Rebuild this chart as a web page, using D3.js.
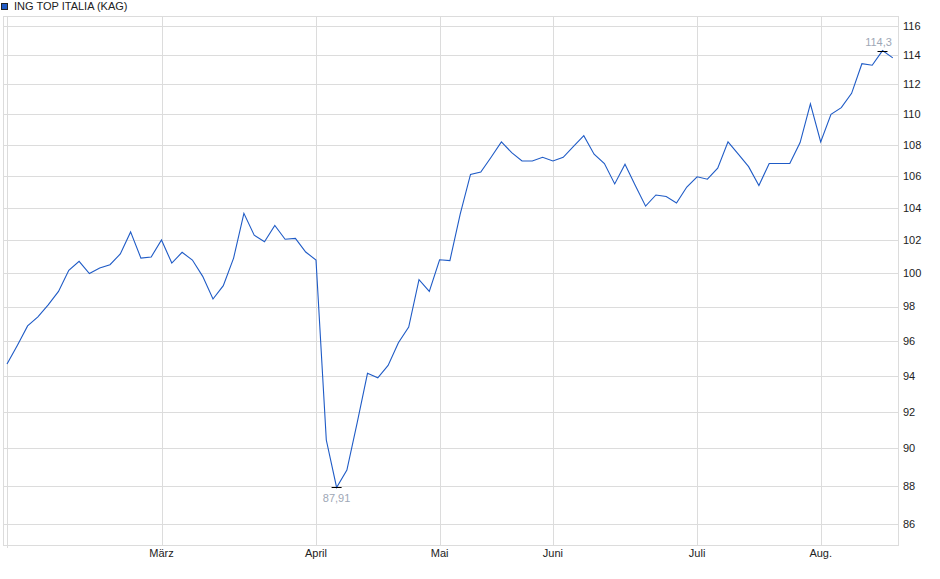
<!DOCTYPE html>
<html>
<head>
<meta charset="utf-8">
<script src="https://cdn.jsdelivr.net/npm/d3@7"></script>
<style>
  body { margin: 0; background: #fff; }
  svg text { font-family: "Liberation Sans", Arial, sans-serif; font-size: 11px; }
</style>
</head>
<body>
<div id="chart-area"></div>
<script>
// SVG Size
var width = 940,
    height = 579;

// series values, one point per ~2 trading days (Feb - Aug)
var values = [
    94.68, 95.74, 96.87, 97.4, 98.1, 98.9, 100.16, 100.7, 99.97, 100.3,
    100.5, 101.15, 102.5, 100.9, 100.97, 102.0, 100.6, 101.25, 100.78, 99.8,
    98.45, 99.24, 100.9, 103.65, 102.3, 101.9, 102.9, 102.05, 102.1, 101.27,
    100.78, 90.45, 87.91, 88.83, 91.4, 94.15, 93.9, 94.6, 95.9, 96.8,
    99.6, 98.9, 100.8, 100.75, 103.6, 106.1, 106.25, 107.2, 108.2, 107.5,
    106.96, 106.96, 107.2, 106.96, 107.2, 107.9, 108.6, 107.4, 106.8, 105.5,
    106.75, 105.4, 104.1, 104.8, 104.7, 104.3, 105.3, 105.95, 105.8, 106.5,
    108.2, 107.4, 106.6, 105.4, 106.8, 106.8, 106.8, 108.15, 110.7, 108.2,
    110.0, 110.45, 111.4, 113.4, 113.3, 114.3, 113.8
];

// month ticks (index of first point in month)
var monthIdx = [0, 15, 30, 42, 53, 67, 79];
var monthLabels = ["", "März", "April", "Mai", "Juni", "Juli", "Aug."];

var yTicks = d3.range(86, 117, 2);

var seriesName = "ING TOP ITALIA (KAG)";
var lineColor = "#1f5bc6";

var plot = { left: 3, top: 16, right: 898, bottom: 545 };

var svg = d3.select("#chart-area").append("svg")
    .attr("width", width)
    .attr("height", height);

var x = d3.scaleLinear()
    .domain([0, values.length - 1])
    .range([7, 892.8]);

var y = d3.scaleLog()
    .domain([86, 116])
    .range([524, 26]);

// grid
svg.append("g")
    .selectAll("line")
    .data(yTicks)
    .enter()
    .append("line")
    .attr("x1", plot.left)
    .attr("x2", plot.right)
    .attr("y1", function(d){ return Math.round(y(d)) + 0.5; })
    .attr("y2", function(d){ return Math.round(y(d)) + 0.5; })
    .attr("stroke", "#dcdcdc");

svg.append("g")
    .selectAll("line")
    .data(monthIdx)
    .enter()
    .append("line")
    .attr("x1", function(d){ return Math.round(x(d)) + 0.5; })
    .attr("x2", function(d){ return Math.round(x(d)) + 0.5; })
    .attr("y1", plot.top)
    .attr("y2", function(d, i){ return i == 0 ? plot.bottom + 3 : plot.bottom; })
    .attr("stroke", "#dcdcdc");

// frame
svg.append("rect")
    .attr("x", plot.left + 0.5)
    .attr("y", plot.top + 0.5)
    .attr("width", plot.right - plot.left)
    .attr("height", plot.bottom - plot.top)
    .attr("fill", "none")
    .attr("stroke", "#dcdcdc");

// right axis labels
svg.append("g")
    .selectAll("text")
    .data(yTicks)
    .enter()
    .append("text")
    .attr("x", 903)
    .attr("y", function(d){ return y(d); })
    .attr("dy", "0.35em")
    .attr("fill", "#222")
    .text(function(d){ return d; });

// month labels
svg.append("g")
    .selectAll("text")
    .data(monthIdx)
    .enter()
    .append("text")
    .attr("x", function(d){ return x(d); })
    .attr("y", 557)
    .attr("text-anchor", "middle")
    .attr("fill", "#222")
    .text(function(d, i){ return monthLabels[i]; });

// line
var line = d3.line()
    .x(function(d, i){ return x(i); })
    .y(function(d){ return y(d); });

svg.append("path")
    .datum(values)
    .attr("d", line)
    .attr("fill", "none")
    .attr("stroke", lineColor)
    .attr("stroke-width", 1.1);

// min / max markers
var minI = d3.minIndex(values),
    maxI = d3.maxIndex(values);

function fmt(v) { return String(v).replace(".", ","); }

[minI, maxI].forEach(function(i){
    svg.append("line")
        .attr("x1", x(i) - 5)
        .attr("x2", x(i) + 5)
        .attr("y1", Math.round(y(values[i])) + 0.5)
        .attr("y2", Math.round(y(values[i])) + 0.5)
        .attr("stroke", "#000");
    svg.append("text")
        .attr("x", x(i) + (i == maxI ? -4 : 0))
        .attr("y", i == minI ? y(values[i]) + 15 : y(values[i]) - 5)
        .attr("text-anchor", "middle")
        .attr("fill", "#9ea7b6")
        .text(fmt(values[i]));
});

// legend
svg.append("rect")
    .attr("x", 1.5)
    .attr("y", 3.5)
    .attr("width", 6)
    .attr("height", 6)
    .attr("fill", lineColor)
    .attr("stroke", "#222");

svg.append("text")
    .attr("x", 14)
    .attr("y", 10)
    .attr("fill", "#222")
    .text(seriesName);
</script>
</body>
</html>
